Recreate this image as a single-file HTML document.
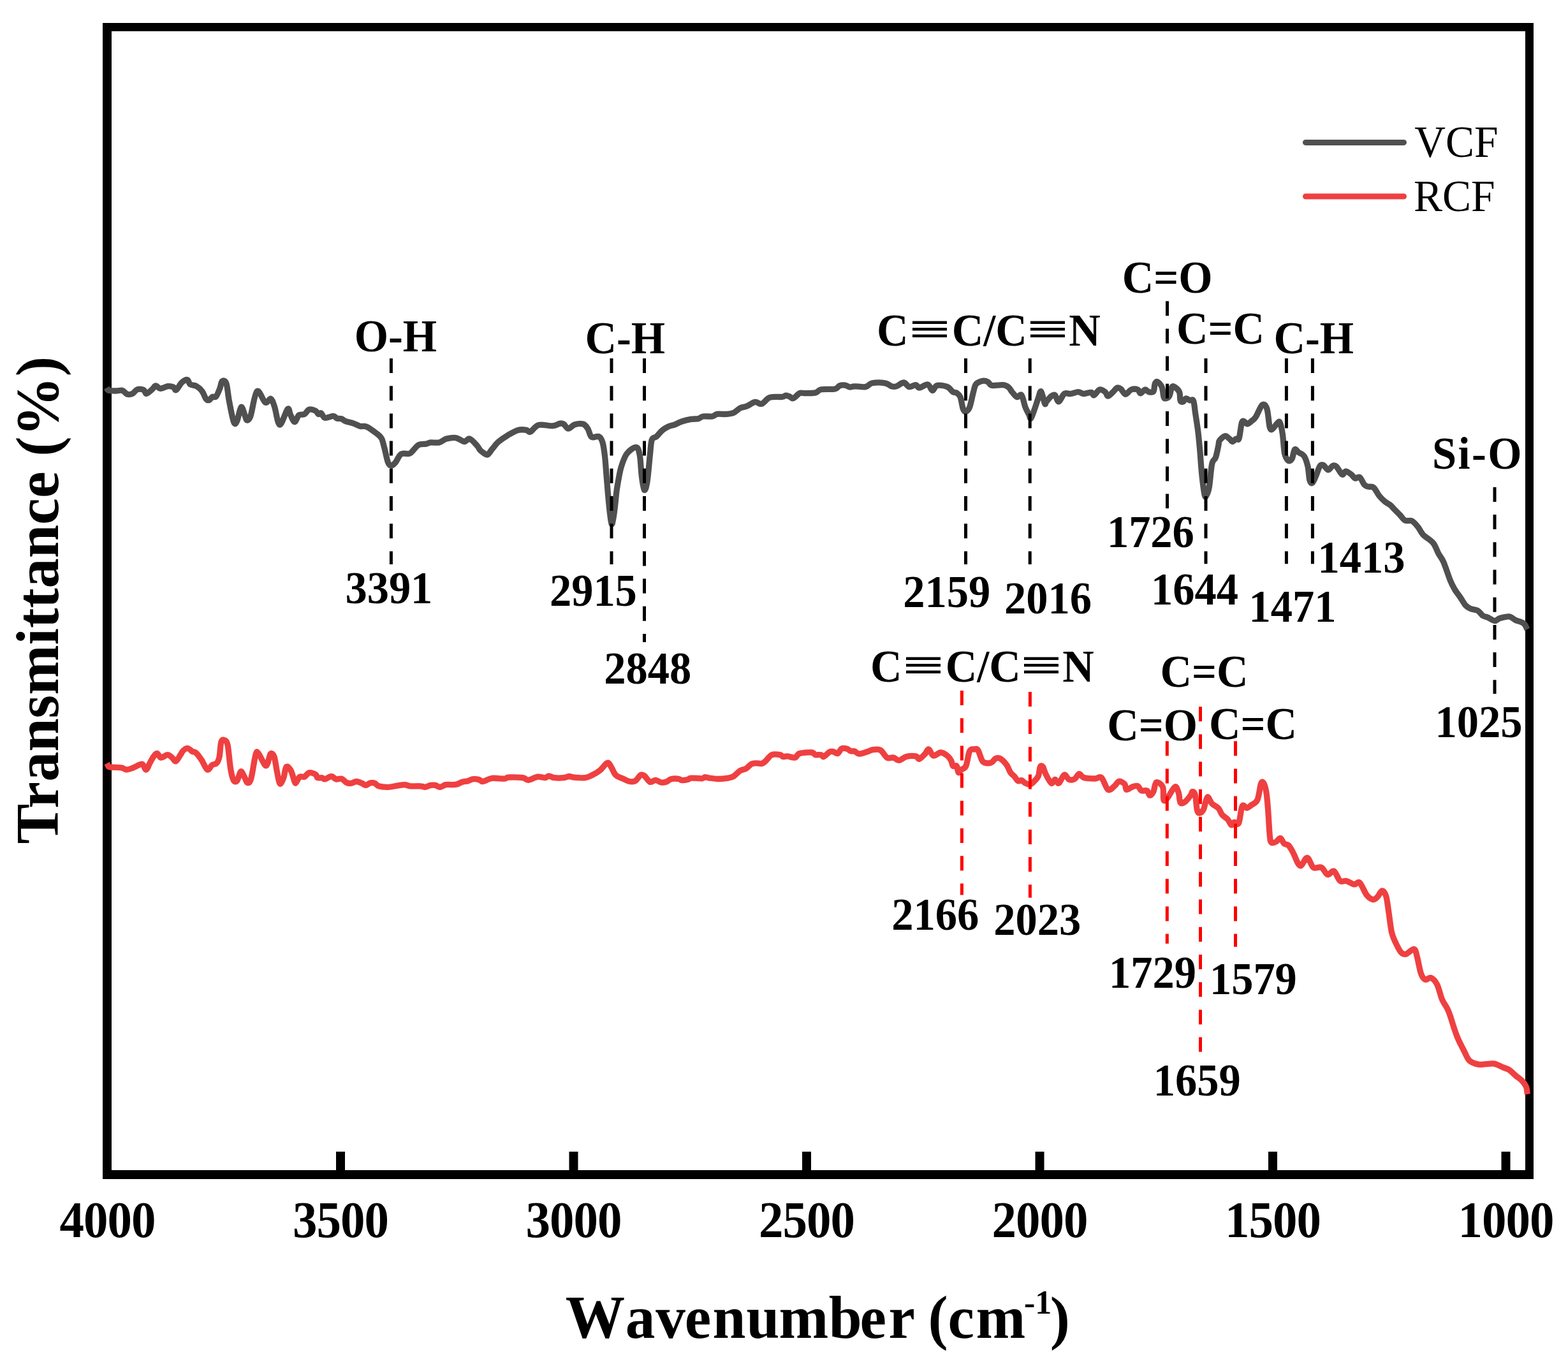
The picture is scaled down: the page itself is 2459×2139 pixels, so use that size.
<!DOCTYPE html>
<html><head><meta charset="utf-8"><title>FTIR spectra of VCF and RCF</title>
<style>html,body{margin:0;padding:0;background:#fff;overflow:hidden;}svg{display:block;}</style>
</head><body>
<svg width="2459" height="2139" viewBox="0 0 2459 2139">
<rect width="2459" height="2139" fill="#fff"/>
<g fill="#000">
<rect x="161" y="36" width="14" height="1813"/>
<rect x="2392" y="36" width="13" height="1813"/>
<rect x="161" y="36" width="2244" height="13"/>
<rect x="161" y="1835" width="2244" height="14"/>
<rect x="527.0" y="1806" width="14" height="30"/>
<rect x="892.5" y="1806" width="14" height="30"/>
<rect x="1258.0" y="1806" width="14" height="30"/>
<rect x="1623.5" y="1806" width="14" height="30"/>
<rect x="1989.0" y="1806" width="14" height="30"/>
<rect x="2354.5" y="1806" width="14" height="30"/>
</g>
<path d="M167.5,608.0 C167.9,608.7 167.7,611.4 170.0,612.2 C172.3,613.0 178.0,613.0 181.6,613.0 C185.2,613.0 188.9,611.4 191.8,612.2 C194.7,613.0 196.4,617.1 199.1,618.0 C201.8,618.9 205.2,618.5 207.9,617.3 C210.6,616.1 212.2,611.8 215.1,610.8 C218.0,609.8 222.9,610.4 225.3,611.5 C227.7,612.6 227.5,617.4 229.7,617.3 C231.9,617.2 236.0,612.8 238.4,610.8 C240.8,608.8 242.1,605.2 244.3,605.0 C246.5,604.8 248.3,609.2 251.5,609.3 C254.7,609.4 259.8,606.1 263.2,605.7 C266.6,605.3 269.7,606.1 271.9,607.1 C274.1,608.1 274.1,612.7 276.3,611.5 C278.5,610.3 282.1,602.6 285.0,599.9 C287.9,597.2 291.6,595.0 293.8,595.5 C296.0,596.0 295.8,601.1 298.2,602.8 C300.6,604.5 305.1,603.9 308.3,605.7 C311.5,607.5 314.7,610.4 317.1,613.7 C319.5,617.0 321.1,623.0 322.9,625.3 C324.7,627.6 326.3,628.0 328.0,627.5 C329.7,627.0 331.3,623.4 333.1,622.4 C334.9,621.4 337.0,623.9 338.9,621.7 C340.8,619.5 343.1,613.3 344.7,609.3 C346.3,605.3 346.7,599.0 348.4,597.7 C350.1,596.4 353.1,596.2 354.9,601.3 C356.7,606.4 357.4,618.2 359.3,628.3 C361.2,638.4 364.5,656.4 366.6,661.7 C368.7,667.0 369.8,664.2 371.7,660.3 C373.6,656.4 376.1,639.9 378.2,638.4 C380.3,636.9 382.6,648.1 384.1,651.5 C385.6,654.9 385.6,658.5 387.0,658.8 C388.4,659.0 390.1,660.5 392.8,653.0 C395.5,645.5 399.1,617.3 403.0,613.7 C406.9,610.1 412.5,629.3 416.1,631.2 C419.7,633.1 422.4,624.1 424.8,625.3 C427.2,626.5 428.4,631.6 430.7,638.4 C433.0,645.2 435.3,665.6 438.7,666.1 C442.1,666.6 448.3,644.1 451.1,641.4 C453.9,638.7 453.6,646.7 455.4,650.1 C457.2,653.5 459.8,661.6 462.0,661.7 C464.2,661.9 466.1,653.0 468.7,651.0 C471.3,649.0 474.8,651.0 477.5,649.5 C480.2,648.0 481.9,643.1 484.8,642.2 C487.7,641.4 492.6,643.2 495.0,644.4 C497.4,645.6 497.9,648.9 499.3,649.5 C500.8,650.1 502.0,647.0 503.7,648.0 C505.4,649.0 506.4,654.6 509.5,655.3 C512.6,656.0 519.5,652.3 522.6,652.4 C525.8,652.5 526.2,655.4 528.4,656.1 C530.6,656.8 533.5,656.1 535.7,656.8 C537.9,657.5 538.3,659.2 541.5,660.4 C544.7,661.6 550.8,662.8 554.7,664.1 C558.6,665.4 561.5,667.5 564.9,668.4 C568.3,669.2 570.6,667.2 575.0,669.2 C579.4,671.2 587.2,677.1 591.1,680.1 C595.0,683.1 596.4,683.8 598.3,687.4 C600.2,691.0 601.0,695.6 602.7,701.9 C604.4,708.2 606.7,720.5 608.5,725.2 C610.3,729.9 611.6,730.3 613.6,730.3 C615.6,730.3 617.7,728.2 620.2,725.2 C622.8,722.2 625.3,714.4 628.9,712.1 C632.5,709.8 638.8,712.4 642.0,711.4 C645.2,710.4 645.5,708.6 647.9,706.3 C650.3,704.0 653.2,699.3 656.6,697.6 C660.0,695.9 665.1,696.7 668.2,696.1 C671.4,695.5 672.1,694.3 675.5,693.9 C678.9,693.5 684.5,694.9 688.6,693.9 C692.7,692.9 695.9,689.3 700.3,688.1 C704.7,686.9 710.2,685.9 714.8,686.6 C719.4,687.3 724.4,692.2 728.0,692.5 C731.6,692.8 733.3,687.0 736.7,688.1 C740.1,689.2 745.6,696.0 748.3,699.0 C751.0,702.0 751.4,704.2 753.0,706.0 C754.6,707.8 756.1,708.8 758.0,710.0 C759.9,711.2 762.3,714.0 764.6,713.0 C766.9,712.0 768.9,707.7 771.8,704.3 C774.7,700.9 777.9,696.2 782.0,692.6 C786.1,689.0 791.5,685.4 796.6,682.4 C801.7,679.4 807.8,675.7 812.6,674.4 C817.5,673.1 822.6,673.9 825.7,674.4 C828.9,674.9 828.3,678.6 831.5,677.3 C834.7,676.0 838.9,668.0 844.7,666.4 C850.5,664.8 860.9,668.3 866.5,667.9 C872.1,667.5 875.2,664.7 878.1,664.2 C881.0,663.7 881.8,663.7 884.0,665.0 C886.2,666.3 888.4,672.1 891.3,672.2 C894.2,672.3 897.5,666.9 901.4,665.7 C905.3,664.5 911.2,663.9 914.6,665.0 C918.0,666.1 919.6,668.8 921.8,672.2 C924.0,675.6 924.8,683.2 927.7,685.3 C930.6,687.4 936.4,683.1 939.3,684.6 C942.2,686.1 943.6,689.0 945.1,694.1 C946.6,699.2 947.5,706.5 948.5,715.0 C949.5,723.5 950.2,735.0 951.0,745.0 C951.8,755.0 952.6,765.0 953.5,775.0 C954.4,785.0 955.5,797.2 956.5,805.0 C957.5,812.8 958.3,820.8 959.2,822.0 C960.1,823.2 961.0,817.3 962.0,812.0 C963.0,806.7 964.1,797.0 964.9,790.0 C965.7,783.0 966.2,776.1 967.0,770.0 C967.8,763.9 968.5,759.9 969.7,753.5 C970.9,747.1 972.1,738.9 974.3,731.9 C976.5,724.9 979.1,716.6 983.0,711.5 C986.9,706.4 994.2,700.9 997.6,701.4 C1001.0,701.9 1002.0,707.0 1003.4,714.5 C1004.8,722.0 1005.1,737.5 1006.3,746.5 C1007.5,755.5 1008.9,766.9 1010.4,768.4 C1011.9,769.9 1013.5,764.4 1015.0,755.2 C1016.5,746.0 1018.2,723.9 1019.4,713.0 C1020.6,702.1 1020.6,694.4 1022.3,689.7 C1024.0,685.0 1026.9,687.0 1029.6,684.6 C1032.3,682.2 1035.2,677.7 1038.3,675.1 C1041.4,672.5 1044.8,670.5 1048.0,669.0 C1051.2,667.5 1054.0,667.4 1057.5,666.1 C1061.0,664.8 1064.7,662.5 1069.1,661.0 C1073.5,659.5 1079.3,658.1 1083.7,657.4 C1088.1,656.7 1092.2,657.3 1095.3,656.6 C1098.4,655.9 1098.9,653.6 1102.6,653.0 C1106.2,652.4 1113.5,653.6 1117.2,653.0 C1120.9,652.4 1120.9,650.0 1124.5,649.4 C1128.1,648.8 1134.6,649.8 1139.0,649.4 C1143.4,649.0 1147.0,648.8 1150.7,647.2 C1154.4,645.6 1157.5,641.6 1160.9,639.9 C1164.3,638.2 1167.2,638.6 1171.1,637.0 C1175.0,635.4 1180.3,631.0 1184.2,630.4 C1188.1,629.8 1190.5,634.5 1194.4,633.3 C1198.3,632.1 1202.2,625.0 1207.5,623.2 C1212.8,621.4 1222.3,622.9 1226.4,622.4 C1230.5,621.9 1230.3,620.3 1232.2,620.2 C1234.1,620.1 1236.0,621.0 1238.0,621.7 C1240.0,622.4 1241.2,625.5 1243.9,624.6 C1246.6,623.8 1251.2,617.9 1254.1,616.6 C1257.0,615.3 1257.3,616.7 1261.4,616.6 C1265.5,616.5 1274.4,616.9 1278.8,615.9 C1283.2,614.9 1282.5,611.8 1287.6,610.8 C1292.7,609.8 1304.6,611.0 1309.4,610.0 C1314.2,609.0 1314.0,605.9 1316.7,604.9 C1319.4,603.9 1322.7,603.8 1325.4,604.2 C1328.1,604.6 1330.3,606.8 1332.7,607.1 C1335.1,607.4 1335.9,605.9 1340.0,605.8 C1344.1,605.7 1352.9,607.4 1357.5,606.6 C1362.1,605.8 1362.6,601.8 1367.7,600.8 C1372.8,599.8 1383.0,599.9 1388.1,600.8 C1393.2,601.6 1395.4,605.0 1398.3,605.9 C1401.2,606.8 1402.3,606.9 1405.5,605.9 C1408.7,604.9 1413.8,599.9 1417.2,600.0 C1420.6,600.1 1422.8,606.0 1425.9,606.6 C1429.1,607.2 1433.4,603.5 1436.1,603.7 C1438.8,604.0 1438.8,608.2 1441.9,608.1 C1445.1,608.0 1451.6,602.3 1455.0,603.0 C1458.4,603.7 1459.9,612.2 1462.3,612.4 C1464.7,612.6 1465.7,605.4 1469.6,604.4 C1473.5,603.4 1481.5,604.9 1485.6,606.6 C1489.7,608.3 1492.0,613.0 1494.4,614.6 C1496.8,616.2 1498.3,614.8 1500.2,616.1 C1502.1,617.4 1504.3,618.4 1506.0,622.6 C1507.7,626.8 1508.9,637.7 1510.4,641.5 C1511.9,645.3 1513.1,645.7 1514.8,645.2 C1516.5,644.7 1518.7,643.6 1520.6,638.6 C1522.5,633.6 1524.7,621.4 1526.4,615.3 C1528.1,609.2 1528.1,605.2 1530.8,602.2 C1533.5,599.2 1539.2,597.6 1542.4,597.1 C1545.6,596.6 1547.5,598.1 1549.7,599.3 C1551.9,600.5 1551.6,603.7 1555.5,604.4 C1559.4,605.1 1568.6,603.2 1573.0,603.7 C1577.4,604.2 1579.3,605.4 1581.7,607.3 C1584.1,609.2 1585.4,612.8 1587.6,615.3 C1589.8,617.8 1592.4,621.9 1594.8,622.6 C1597.2,623.3 1599.9,617.0 1602.1,619.7 C1604.3,622.4 1606.0,633.5 1608.0,638.6 C1610.0,643.7 1612.3,647.4 1613.8,650.3 C1615.2,653.2 1615.2,657.6 1616.7,656.1 C1618.2,654.6 1620.6,646.8 1622.5,641.5 C1624.4,636.2 1626.6,628.7 1628.3,624.1 C1630.0,619.5 1631.0,612.5 1632.7,613.9 C1634.4,615.3 1637.1,630.1 1638.5,632.8 C1639.9,635.5 1639.3,631.9 1641.0,630.0 C1642.7,628.1 1646.4,622.9 1648.7,621.2 C1651.0,619.5 1652.6,618.2 1654.6,619.7 C1656.5,621.2 1658.0,630.3 1660.4,629.9 C1662.8,629.5 1665.9,619.6 1669.1,617.5 C1672.2,615.4 1675.6,618.0 1679.3,617.5 C1683.0,617.0 1687.6,614.6 1691.0,614.6 C1694.4,614.6 1696.3,617.4 1699.7,617.5 C1703.1,617.6 1708.7,614.9 1711.4,615.3 C1714.1,615.7 1713.5,620.4 1715.7,619.7 C1717.9,619.0 1721.6,611.9 1724.5,611.0 C1727.4,610.1 1731.0,612.9 1733.2,614.6 C1735.4,616.3 1735.6,621.1 1737.6,621.2 C1739.5,621.3 1742.5,617.5 1744.9,615.3 C1747.3,613.1 1749.9,609.0 1752.1,608.1 C1754.3,607.2 1755.8,608.5 1758.0,610.2 C1760.2,611.9 1762.5,618.2 1765.2,618.3 C1767.9,618.4 1770.8,612.2 1774.0,611.0 C1777.2,609.8 1781.8,610.0 1784.2,611.0 C1786.6,612.0 1786.6,616.8 1788.5,616.8 C1790.4,616.8 1793.6,611.4 1795.8,611.0 C1798.0,610.6 1799.4,614.1 1801.6,614.6 C1803.8,615.1 1807.3,616.0 1808.9,613.9 C1810.5,611.8 1810.1,604.8 1811.1,602.2 C1812.1,599.7 1813.0,597.9 1814.8,598.6 C1816.6,599.3 1820.3,602.6 1822.0,606.6 C1823.7,610.6 1824.0,619.6 1825.0,622.6 C1826.0,625.6 1826.5,625.0 1827.9,624.8 C1829.4,624.6 1832.0,624.2 1833.7,621.2 C1835.4,618.2 1836.3,608.8 1838.0,606.6 C1839.7,604.4 1842.0,606.7 1843.9,608.1 C1845.9,609.5 1848.5,611.9 1849.7,615.3 C1850.9,618.7 1850.2,626.0 1851.2,628.4 C1852.2,630.8 1854.0,630.5 1855.5,629.9 C1857.0,629.3 1858.2,625.2 1859.9,624.8 C1861.6,624.4 1863.8,627.1 1865.7,627.7 C1867.6,628.3 1870.0,625.1 1871.5,628.4 C1873.0,631.7 1873.3,639.4 1874.5,647.4 C1875.7,655.4 1877.6,666.8 1878.8,676.5 C1880.0,686.2 1880.7,694.7 1881.7,705.6 C1882.7,716.5 1883.4,730.4 1884.6,742.0 C1885.8,753.6 1887.8,769.7 1889.0,775.5 C1890.2,781.3 1890.7,778.9 1891.9,777.0 C1893.1,775.1 1894.8,772.1 1896.3,763.9 C1897.8,755.6 1899.0,735.3 1900.7,727.5 C1902.4,719.7 1904.8,722.2 1906.5,717.3 C1908.2,712.4 1909.9,702.7 1910.9,698.3 C1911.9,693.9 1910.6,693.5 1912.3,691.1 C1914.0,688.7 1918.4,684.3 1921.1,683.8 C1923.8,683.3 1926.4,686.8 1928.3,688.2 C1930.2,689.7 1931.0,692.5 1932.7,692.5 C1934.4,692.5 1936.8,689.1 1938.5,688.2 C1940.2,687.4 1941.6,691.7 1943.1,687.4 C1944.6,683.1 1946.0,667.0 1947.5,662.6 C1949.0,658.2 1950.3,660.8 1951.8,661.2 C1953.2,661.6 1954.2,665.0 1956.2,664.8 C1958.2,664.5 1961.3,661.5 1963.5,659.7 C1965.7,657.9 1966.6,658.0 1969.3,653.9 C1972.0,649.8 1976.6,637.2 1979.5,635.0 C1982.4,632.8 1984.8,635.0 1986.8,640.8 C1988.8,646.6 1989.8,664.6 1991.2,669.9 C1992.7,675.2 1993.6,673.8 1995.5,672.8 C1997.4,671.8 2000.8,665.8 2002.8,664.1 C2004.8,662.4 2005.8,659.7 2007.2,662.6 C2008.7,665.5 2010.3,673.5 2011.5,681.5 C2012.7,689.5 2013.0,703.9 2014.5,710.7 C2016.0,717.5 2018.4,720.8 2020.3,722.3 C2022.2,723.8 2024.4,722.3 2026.1,719.4 C2027.8,716.5 2028.8,706.6 2030.5,704.9 C2032.2,703.2 2033.9,707.5 2036.3,709.2 C2038.7,710.9 2042.6,711.4 2045.0,715.0 C2047.4,718.6 2049.4,724.8 2050.9,731.1 C2052.4,737.4 2052.6,748.5 2053.8,752.9 C2055.0,757.3 2056.5,758.5 2058.2,757.3 C2059.9,756.1 2062.1,750.0 2064.0,745.6 C2065.9,741.2 2067.9,733.8 2069.8,731.1 C2071.7,728.4 2073.4,728.6 2075.6,729.6 C2077.8,730.6 2080.5,736.8 2082.9,736.9 C2085.3,737.0 2088.0,731.1 2090.2,730.3 C2092.4,729.4 2093.6,729.5 2096.0,731.8 C2098.4,734.1 2102.4,743.0 2104.8,744.2 C2107.2,745.4 2108.2,739.1 2110.6,739.1 C2113.0,739.1 2116.9,742.4 2119.3,744.2 C2121.7,746.0 2122.9,749.3 2125.1,750.0 C2127.3,750.7 2130.0,746.8 2132.4,748.5 C2134.8,750.2 2137.5,757.8 2139.7,760.2 C2141.9,762.6 2143.1,762.4 2145.5,763.1 C2147.9,763.8 2151.4,762.2 2154.3,764.6 C2157.2,767.0 2160.1,774.1 2163.0,777.7 C2165.9,781.3 2168.8,784.0 2171.7,786.4 C2174.6,788.8 2178.1,790.3 2180.5,792.2 C2182.9,794.1 2183.5,795.5 2186.0,798.0 C2188.5,800.5 2192.5,804.5 2195.4,807.5 C2198.3,810.5 2200.4,814.6 2203.5,816.2 C2206.6,817.8 2210.8,815.2 2214.2,816.9 C2217.5,818.6 2220.7,822.6 2223.6,826.2 C2226.5,829.8 2227.6,834.0 2231.6,838.3 C2235.6,842.5 2243.7,846.8 2247.7,851.7 C2251.7,856.6 2253.0,862.9 2255.7,867.8 C2258.4,872.7 2260.6,874.1 2263.7,881.2 C2266.8,888.3 2271.6,903.5 2274.5,910.6 C2277.4,917.7 2278.5,919.5 2281.2,924.0 C2283.9,928.5 2287.6,933.1 2290.5,937.4 C2293.4,941.6 2295.9,946.6 2298.6,949.5 C2301.3,952.4 2303.5,953.5 2306.6,954.8 C2309.7,956.1 2314.2,955.7 2317.3,957.5 C2320.4,959.3 2322.7,963.7 2325.4,965.5 C2328.1,967.3 2330.3,966.9 2333.4,968.2 C2336.5,969.6 2341.0,973.4 2344.1,973.6 C2347.2,973.8 2348.3,970.6 2352.1,969.5 C2355.9,968.4 2362.9,966.4 2366.9,966.9 C2370.9,967.4 2372.4,970.4 2376.2,972.2 C2380.0,974.0 2386.5,975.1 2389.6,977.6 C2392.7,980.1 2394.1,985.4 2395.0,987.0" fill="none" stroke="#505050" stroke-width="9.3" stroke-linejoin="round" stroke-linecap="butt"/>
<path d="M167.9,1196.8 C168.4,1197.8 168.9,1201.5 170.8,1202.6 C172.8,1203.7 176.2,1203.0 179.6,1203.3 C183.0,1203.5 188.0,1203.5 191.2,1204.1 C194.3,1204.7 195.6,1207.0 198.5,1207.0 C201.4,1207.0 206.0,1205.1 208.7,1204.1 C211.4,1203.1 212.1,1202.2 214.5,1201.2 C216.9,1200.2 220.8,1197.2 223.2,1198.2 C225.6,1199.2 227.1,1207.2 229.1,1207.0 C231.1,1206.8 233.0,1200.2 234.9,1196.8 C236.8,1193.4 238.8,1189.1 240.7,1186.6 C242.6,1184.0 244.6,1181.2 246.5,1181.5 C248.4,1181.8 249.7,1187.7 252.4,1188.1 C255.1,1188.5 259.7,1183.7 262.6,1183.7 C265.5,1183.7 267.7,1186.4 269.9,1188.1 C272.1,1189.8 273.5,1194.6 275.7,1193.9 C277.9,1193.2 281.1,1186.5 283.0,1183.7 C284.9,1180.9 285.4,1178.8 287.3,1177.1 C289.2,1175.4 292.2,1173.2 294.6,1173.5 C297.0,1173.8 299.7,1177.4 301.9,1178.6 C304.1,1179.8 305.3,1178.5 307.7,1180.8 C310.1,1183.1 313.6,1188.0 316.5,1192.4 C319.4,1196.8 322.5,1205.8 325.2,1207.0 C327.9,1208.2 330.1,1201.4 332.5,1199.7 C334.9,1198.0 337.9,1199.0 339.8,1196.8 C341.7,1194.6 342.9,1192.2 344.1,1186.6 C345.3,1181.0 345.5,1167.5 347.0,1163.3 C348.5,1159.0 351.2,1160.1 352.9,1161.1 C354.6,1162.1 355.8,1161.7 357.2,1169.1 C358.6,1176.5 360.1,1196.5 361.6,1205.5 C363.1,1214.5 364.3,1219.8 366.0,1223.0 C367.7,1226.2 369.9,1226.7 371.8,1224.5 C373.7,1222.3 375.7,1210.9 377.6,1209.9 C379.5,1208.9 381.7,1215.7 383.4,1218.6 C385.1,1221.5 386.1,1226.9 387.8,1227.4 C389.5,1227.9 391.4,1228.8 393.6,1221.5 C395.8,1214.2 398.9,1190.4 400.9,1183.7 C402.8,1177.0 402.9,1178.8 405.3,1181.5 C407.7,1184.2 413.1,1197.2 415.5,1199.7 C417.9,1202.2 418.4,1199.7 419.8,1196.8 C421.2,1193.9 422.5,1183.9 424.2,1182.2 C425.9,1180.5 428.3,1182.0 430.0,1186.6 C431.7,1191.2 432.9,1202.9 434.4,1209.9 C435.9,1216.9 437.1,1227.1 438.8,1228.8 C440.5,1230.5 442.9,1224.5 444.6,1220.1 C446.3,1215.7 447.1,1204.5 449.0,1202.6 C450.9,1200.6 454.0,1204.5 456.2,1208.4 C458.4,1212.3 460.7,1222.8 462.1,1225.9 C463.5,1229.0 463.0,1228.3 464.4,1227.0 C465.8,1225.7 468.0,1219.7 470.2,1218.2 C472.4,1216.7 475.1,1219.3 477.5,1218.2 C479.9,1217.1 481.9,1212.3 484.8,1211.7 C487.7,1211.1 492.8,1213.3 495.0,1214.6 C497.2,1215.9 496.2,1218.8 497.9,1219.7 C499.6,1220.6 503.2,1219.3 505.1,1219.7 C507.0,1220.1 507.1,1222.3 509.5,1221.9 C511.9,1221.5 516.8,1217.5 519.7,1217.5 C522.6,1217.5 524.3,1221.3 527.0,1221.9 C529.7,1222.5 533.0,1220.4 535.7,1221.2 C538.4,1222.0 540.6,1225.8 543.0,1227.0 C545.4,1228.2 547.6,1228.7 550.3,1228.4 C553.0,1228.2 556.1,1225.5 559.0,1225.5 C561.9,1225.5 565.4,1227.4 567.8,1228.4 C570.2,1229.4 571.4,1231.5 573.6,1231.4 C575.8,1231.3 578.5,1228.2 580.9,1227.7 C583.3,1227.2 585.9,1227.6 588.1,1228.4 C590.3,1229.2 590.6,1231.8 594.0,1232.8 C597.4,1233.8 603.6,1234.4 608.5,1234.3 C613.4,1234.2 618.7,1232.7 623.1,1232.1 C627.5,1231.5 631.4,1230.5 634.8,1230.6 C638.2,1230.7 639.4,1232.4 643.5,1232.8 C647.6,1233.2 655.6,1232.5 659.5,1232.8 C663.4,1233.0 664.1,1234.5 666.8,1234.3 C669.5,1234.1 672.8,1231.9 675.5,1231.4 C678.2,1230.9 680.4,1230.9 682.8,1231.4 C685.2,1231.9 687.4,1234.4 690.1,1234.3 C692.8,1234.2 695.9,1231.2 698.8,1230.6 C701.7,1230.0 704.7,1230.7 707.6,1230.6 C710.5,1230.5 713.4,1230.6 716.3,1229.9 C719.2,1229.2 722.1,1227.2 725.0,1226.3 C727.9,1225.4 731.1,1225.5 733.8,1224.8 C736.5,1224.1 738.2,1222.3 741.1,1221.9 C744.0,1221.5 748.5,1222.0 751.2,1222.6 C753.9,1223.2 753.9,1225.9 757.3,1225.5 C760.7,1225.1 766.2,1221.1 771.8,1220.4 C777.4,1219.7 786.4,1221.4 790.8,1221.2 C795.2,1221.0 793.2,1219.2 798.1,1219.0 C803.0,1218.8 814.8,1219.0 819.9,1219.7 C825.0,1220.4 824.7,1223.5 828.6,1223.3 C832.5,1223.0 838.8,1218.8 843.2,1218.2 C847.6,1217.6 852.0,1219.9 854.9,1219.7 C857.8,1219.5 858.3,1216.8 860.7,1216.8 C863.1,1216.8 865.5,1219.2 869.4,1219.7 C873.3,1220.2 880.1,1220.1 884.0,1219.7 C887.9,1219.3 890.0,1217.6 892.7,1217.5 C895.4,1217.4 895.9,1218.6 900.0,1219.0 C904.1,1219.4 912.6,1220.3 917.5,1219.7 C922.4,1219.1 925.2,1217.2 929.1,1215.3 C933.0,1213.4 936.9,1211.2 940.8,1208.1 C944.7,1204.9 949.5,1197.4 952.4,1196.4 C955.3,1195.4 956.0,1199.1 958.2,1202.2 C960.4,1205.3 962.3,1212.1 965.5,1215.3 C968.7,1218.5 973.6,1219.5 977.2,1221.2 C980.9,1222.9 984.2,1224.9 987.4,1225.5 C990.5,1226.1 993.2,1226.5 996.1,1224.8 C999.0,1223.1 1002.4,1216.6 1004.8,1215.3 C1007.2,1214.0 1008.3,1215.0 1010.7,1216.8 C1013.1,1218.6 1016.5,1225.2 1019.4,1226.3 C1022.3,1227.4 1025.2,1223.2 1028.1,1223.3 C1031.0,1223.4 1034.1,1226.5 1036.9,1227.0 C1039.7,1227.5 1042.3,1226.9 1045.0,1226.0 C1047.7,1225.1 1049.8,1222.2 1053.1,1221.5 C1056.4,1220.8 1062.1,1221.1 1064.8,1221.5 C1067.5,1221.9 1066.7,1223.6 1069.1,1223.7 C1071.5,1223.8 1076.9,1222.9 1079.3,1222.3 C1081.7,1221.7 1080.0,1220.3 1083.7,1220.1 C1087.4,1219.8 1097.6,1221.0 1101.2,1220.8 C1104.8,1220.5 1103.6,1218.7 1105.5,1218.6 C1107.4,1218.5 1109.1,1219.6 1112.8,1220.1 C1116.5,1220.6 1122.6,1221.5 1127.4,1221.5 C1132.2,1221.5 1138.0,1220.8 1141.9,1220.1 C1145.8,1219.4 1147.5,1219.2 1150.7,1217.2 C1153.9,1215.2 1157.8,1210.4 1160.9,1208.4 C1164.1,1206.5 1166.7,1207.2 1169.6,1205.5 C1172.5,1203.8 1175.6,1199.7 1178.3,1198.2 C1181.0,1196.8 1182.9,1196.9 1185.6,1196.8 C1188.3,1196.7 1192.0,1198.0 1194.4,1197.5 C1196.8,1197.0 1197.5,1196.2 1200.2,1193.9 C1202.9,1191.6 1206.5,1185.4 1210.4,1183.7 C1214.3,1182.0 1220.6,1183.2 1223.5,1183.7 C1226.4,1184.2 1226.0,1186.2 1227.9,1186.6 C1229.8,1187.0 1231.9,1185.7 1235.1,1185.9 C1238.2,1186.2 1243.6,1188.8 1246.8,1188.1 C1250.0,1187.4 1249.7,1182.8 1254.1,1181.5 C1258.5,1180.2 1268.9,1179.6 1273.0,1180.0 C1277.1,1180.4 1276.4,1183.1 1278.8,1183.7 C1281.2,1184.3 1285.4,1183.2 1287.6,1183.7 C1289.8,1184.2 1289.7,1187.3 1291.9,1186.6 C1294.1,1185.9 1298.3,1180.6 1300.7,1179.3 C1303.1,1178.0 1304.3,1178.2 1306.5,1178.6 C1308.7,1179.0 1311.6,1182.2 1313.8,1181.5 C1316.0,1180.8 1317.2,1175.4 1319.6,1174.2 C1322.0,1173.0 1325.9,1173.6 1328.3,1174.2 C1330.7,1174.8 1332.2,1177.3 1334.2,1177.9 C1336.2,1178.5 1337.8,1177.3 1340.0,1178.0 C1342.2,1178.7 1344.1,1182.0 1347.3,1182.2 C1350.5,1182.4 1355.3,1180.4 1358.9,1179.3 C1362.5,1178.2 1365.4,1176.2 1369.1,1175.7 C1372.8,1175.2 1377.1,1174.3 1380.8,1176.4 C1384.5,1178.5 1387.6,1186.1 1391.0,1188.1 C1394.4,1190.0 1398.0,1187.4 1401.2,1188.1 C1404.4,1188.8 1406.5,1192.7 1409.9,1192.4 C1413.3,1192.2 1417.1,1187.7 1421.5,1186.6 C1425.9,1185.5 1432.7,1185.3 1436.1,1185.9 C1439.5,1186.5 1439.5,1190.8 1441.9,1190.2 C1444.3,1189.6 1448.3,1184.7 1450.7,1182.2 C1453.1,1179.7 1454.3,1174.5 1456.5,1175.0 C1458.7,1175.5 1460.6,1184.3 1463.8,1185.1 C1467.0,1185.9 1471.8,1180.0 1475.4,1180.0 C1479.0,1180.0 1482.9,1183.0 1485.6,1185.1 C1488.3,1187.2 1490.0,1189.7 1491.5,1192.4 C1493.0,1195.1 1493.0,1199.7 1494.4,1201.2 C1495.9,1202.7 1498.8,1199.5 1500.2,1201.2 C1501.7,1202.9 1501.9,1210.4 1503.1,1211.4 C1504.3,1212.4 1505.5,1208.7 1507.5,1207.0 C1509.5,1205.3 1512.6,1206.0 1514.8,1201.2 C1517.0,1196.4 1518.4,1182.3 1520.6,1177.9 C1522.8,1173.5 1525.7,1175.2 1527.9,1175.0 C1530.1,1174.8 1531.5,1173.2 1533.7,1176.4 C1535.9,1179.6 1538.3,1190.5 1541.0,1193.9 C1543.7,1197.3 1547.3,1196.6 1549.7,1196.8 C1552.1,1197.0 1553.5,1196.5 1555.5,1195.3 C1557.5,1194.1 1559.2,1190.5 1561.4,1189.5 C1563.6,1188.5 1565.7,1187.8 1568.6,1189.5 C1571.5,1191.2 1576.1,1196.0 1578.8,1199.7 C1581.5,1203.4 1582.6,1208.5 1584.6,1211.4 C1586.5,1214.3 1588.5,1215.0 1590.5,1217.2 C1592.5,1219.4 1594.4,1223.4 1596.3,1224.5 C1598.2,1225.6 1600.2,1223.1 1602.1,1223.7 C1604.0,1224.3 1605.7,1227.0 1607.9,1228.1 C1610.1,1229.2 1613.0,1230.7 1615.2,1230.3 C1617.4,1229.9 1618.9,1228.1 1621.1,1225.9 C1623.3,1223.7 1626.6,1221.1 1628.3,1217.2 C1630.0,1213.3 1630.1,1205.0 1631.3,1202.6 C1632.5,1200.2 1634.1,1200.7 1635.6,1202.6 C1637.0,1204.5 1637.8,1209.7 1640.0,1214.0 C1642.2,1218.3 1646.3,1226.8 1648.7,1228.2 C1651.1,1229.6 1652.6,1222.4 1654.6,1222.4 C1656.5,1222.4 1658.0,1229.4 1660.4,1228.2 C1662.8,1227.0 1666.4,1216.1 1669.1,1215.1 C1671.8,1214.1 1673.7,1221.3 1676.4,1222.4 C1679.1,1223.5 1682.4,1223.2 1685.1,1221.7 C1687.8,1220.2 1690.0,1214.1 1692.4,1213.7 C1694.8,1213.3 1695.6,1218.3 1699.7,1219.5 C1703.8,1220.7 1712.6,1221.0 1717.2,1221.0 C1721.8,1221.0 1724.0,1216.6 1727.4,1219.5 C1730.8,1222.4 1734.2,1236.2 1737.6,1238.4 C1741.0,1240.6 1744.9,1234.8 1747.8,1232.6 C1750.7,1230.4 1752.3,1225.8 1755.0,1225.3 C1757.7,1224.8 1761.8,1227.5 1763.8,1229.7 C1765.8,1231.9 1764.8,1237.7 1766.7,1238.4 C1768.6,1239.1 1772.5,1235.1 1775.4,1234.1 C1778.3,1233.1 1781.8,1231.6 1784.2,1232.6 C1786.6,1233.6 1787.6,1238.7 1790.0,1239.9 C1792.4,1241.1 1796.5,1238.7 1798.7,1239.9 C1800.9,1241.1 1801.4,1247.0 1803.1,1247.2 C1804.8,1247.5 1807.2,1244.8 1808.9,1241.4 C1810.6,1238.0 1810.9,1228.0 1813.3,1226.8 C1815.7,1225.6 1821.6,1229.5 1823.5,1234.1 C1825.4,1238.7 1823.7,1251.6 1824.9,1254.5 C1826.1,1257.4 1827.9,1254.9 1830.8,1251.5 C1833.7,1248.1 1839.5,1235.5 1842.4,1234.1 C1845.3,1232.6 1846.7,1238.7 1848.2,1242.8 C1849.7,1246.9 1849.5,1256.4 1851.2,1258.8 C1852.9,1261.2 1855.7,1259.3 1858.4,1257.4 C1861.1,1255.5 1865.2,1249.9 1867.2,1247.2 C1869.2,1244.5 1868.9,1241.4 1870.1,1241.4 C1871.3,1241.4 1873.3,1242.4 1874.5,1247.2 C1875.7,1252.0 1876.2,1265.9 1877.4,1270.5 C1878.6,1275.1 1880.0,1275.2 1881.7,1274.9 C1883.4,1274.7 1885.6,1273.1 1887.6,1269.0 C1889.5,1264.9 1891.2,1251.5 1893.4,1250.1 C1895.6,1248.6 1897.8,1257.4 1900.7,1260.3 C1903.6,1263.2 1908.2,1264.7 1910.9,1267.6 C1913.6,1270.5 1914.3,1274.9 1916.7,1277.8 C1919.1,1280.7 1923.0,1282.3 1925.4,1285.0 C1927.8,1287.7 1929.5,1293.1 1931.2,1293.8 C1932.9,1294.5 1933.7,1289.8 1935.6,1289.3 C1937.5,1288.8 1940.5,1294.9 1942.6,1290.7 C1944.7,1286.5 1946.0,1268.2 1948.1,1264.2 C1950.2,1260.2 1952.8,1267.2 1955.1,1267.0 C1957.4,1266.8 1959.3,1264.9 1962.1,1262.8 C1964.9,1260.7 1969.4,1260.0 1971.9,1254.4 C1974.5,1248.8 1975.8,1233.7 1977.4,1229.3 C1979.0,1224.9 1980.2,1225.8 1981.6,1227.9 C1983.0,1230.0 1984.6,1234.9 1985.8,1241.9 C1987.0,1248.9 1987.7,1258.2 1988.6,1269.8 C1989.5,1281.4 1990.5,1303.0 1991.4,1311.6 C1992.3,1320.2 1992.6,1320.0 1994.2,1321.4 C1995.8,1322.8 1998.9,1321.2 2001.2,1320.0 C2003.5,1318.8 2006.0,1313.9 2008.1,1314.4 C2010.2,1314.9 2011.6,1320.9 2013.7,1322.8 C2015.8,1324.7 2018.4,1323.3 2020.7,1325.6 C2023.0,1327.9 2024.7,1331.4 2027.7,1336.7 C2030.7,1342.0 2035.1,1356.2 2038.8,1357.6 C2042.5,1359.0 2046.5,1344.6 2050.0,1345.1 C2053.5,1345.6 2056.0,1357.9 2059.7,1360.4 C2063.4,1363.0 2068.6,1358.5 2072.3,1360.4 C2076.0,1362.3 2078.8,1370.7 2082.1,1371.6 C2085.3,1372.5 2088.6,1364.4 2091.8,1366.0 C2095.1,1367.6 2098.3,1378.8 2101.6,1381.4 C2104.9,1384.0 2107.7,1380.5 2111.4,1381.4 C2115.1,1382.3 2120.4,1386.4 2123.9,1386.9 C2127.4,1387.4 2129.1,1381.4 2132.3,1384.2 C2135.6,1387.0 2139.9,1399.3 2143.4,1403.7 C2146.9,1408.1 2150.4,1410.2 2153.2,1410.7 C2156.0,1411.2 2157.8,1408.8 2160.2,1406.5 C2162.6,1404.2 2165.2,1397.2 2167.5,1397.0 C2169.8,1396.8 2172.0,1400.1 2173.7,1405.4 C2175.4,1410.7 2176.1,1419.4 2177.6,1428.8 C2179.1,1438.2 2180.6,1453.5 2182.5,1462.0 C2184.4,1470.5 2186.9,1474.4 2189.3,1479.6 C2191.7,1484.8 2194.5,1490.5 2197.1,1493.3 C2199.7,1496.1 2201.5,1497.0 2204.9,1496.2 C2208.3,1495.4 2214.7,1487.6 2217.6,1488.4 C2220.5,1489.2 2220.7,1494.8 2222.5,1501.1 C2224.3,1507.4 2226.3,1520.6 2228.4,1526.5 C2230.5,1532.4 2232.6,1535.2 2235.2,1536.3 C2237.8,1537.4 2240.9,1532.0 2244.0,1533.3 C2247.1,1534.6 2250.9,1538.4 2253.8,1544.1 C2256.7,1549.8 2258.7,1560.7 2261.6,1567.5 C2264.5,1574.3 2268.1,1577.3 2271.3,1585.1 C2274.6,1592.9 2278.5,1606.9 2281.1,1614.4 C2283.7,1621.9 2284.4,1624.2 2287.0,1630.0 C2289.6,1635.8 2293.8,1644.0 2296.7,1649.5 C2299.6,1655.0 2300.9,1659.9 2304.5,1663.2 C2308.1,1666.5 2314.0,1668.2 2318.2,1669.1 C2322.4,1670.0 2325.7,1668.9 2329.9,1668.7 C2334.1,1668.5 2339.0,1667.2 2343.6,1668.1 C2348.2,1669.0 2353.4,1672.3 2357.3,1673.9 C2361.2,1675.5 2363.8,1675.8 2367.0,1677.9 C2370.2,1680.0 2373.5,1683.8 2376.8,1686.6 C2380.1,1689.4 2383.8,1691.6 2386.6,1694.5 C2389.4,1697.4 2391.9,1700.6 2393.4,1704.2 C2394.9,1707.8 2395.0,1714.0 2395.3,1715.9" fill="none" stroke="#ef4041" stroke-width="9.3" stroke-linejoin="round" stroke-linecap="butt"/>
<line x1="613.4" y1="562" x2="613.4" y2="885" stroke="#000" stroke-width="5" stroke-dasharray="23 20.2"/>
<line x1="959" y1="562" x2="959" y2="885" stroke="#000" stroke-width="5" stroke-dasharray="23 20.2"/>
<line x1="1010.5" y1="562" x2="1010.5" y2="1007" stroke="#000" stroke-width="5" stroke-dasharray="23 20.2"/>
<line x1="1514.5" y1="562" x2="1514.5" y2="885" stroke="#000" stroke-width="5" stroke-dasharray="23 20.2"/>
<line x1="1615.2" y1="562" x2="1615.2" y2="885" stroke="#000" stroke-width="5" stroke-dasharray="23 20.2"/>
<line x1="1830.5" y1="472.2" x2="1830.5" y2="797.3" stroke="#000" stroke-width="5" stroke-dasharray="23 20.2"/>
<line x1="1891" y1="562" x2="1891" y2="884.2" stroke="#000" stroke-width="5" stroke-dasharray="23 20.2"/>
<line x1="2017.4" y1="562" x2="2017.4" y2="884.2" stroke="#000" stroke-width="5" stroke-dasharray="23 20.2"/>
<line x1="2058.4" y1="562" x2="2058.4" y2="884.2" stroke="#000" stroke-width="5" stroke-dasharray="23 20.2"/>
<line x1="2344" y1="763.9" x2="2344" y2="1088" stroke="#000" stroke-width="5" stroke-dasharray="23 20.2"/>
<line x1="1508.4" y1="1083" x2="1508.4" y2="1403.5" stroke="#ff0000" stroke-width="5" stroke-dasharray="23 20.2"/>
<line x1="1615.4" y1="1084.9" x2="1615.4" y2="1407.7" stroke="#ff0000" stroke-width="5" stroke-dasharray="23 20.2"/>
<line x1="1830.3" y1="1162.2" x2="1830.3" y2="1479.8" stroke="#ff0000" stroke-width="5" stroke-dasharray="23 20.2"/>
<line x1="1882.5" y1="1108.2" x2="1882.5" y2="1649.7" stroke="#ff0000" stroke-width="5" stroke-dasharray="23 20.2"/>
<line x1="1937.5" y1="1162.2" x2="1937.5" y2="1484.8" stroke="#ff0000" stroke-width="5" stroke-dasharray="23 20.2"/>
<g font-family="'Liberation Serif', serif" font-weight="bold" fill="#000">
<text x="555.7" y="551.1" font-size="68.5" transform="matrix(1,0,0,1.05,0,-27.56)">O-H</text>
<text x="917.6" y="553.8" font-size="68.5" transform="matrix(1,0,0,1.05,0,-27.69)">C-H</text>
<text x="541.4" y="946.0" font-size="68.5" transform="matrix(1,0,0,1.05,0,-47.30)">3391</text>
<text x="861.9" y="949.8" font-size="68.5" transform="matrix(1,0,0,1.05,0,-47.49)">2915</text>
<text x="947.2" y="1071.7" font-size="68.5" transform="matrix(1,0,0,1.05,0,-53.59)">2848</text>
<text x="1375.06" y="541.60" font-size="68.5" transform="matrix(1,0,0,1.05,0,-27.08)">C</text><text transform="translate(1425.19,536.70) scale(1.6953,0.913)" font-size="68.5">≡</text><text x="1492.76" y="541.60" font-size="68.5" transform="matrix(1,0,0,1.05,0,-27.08)">C/C</text><text transform="translate(1610.19,536.70) scale(1.6953,0.913)" font-size="68.5">≡</text><text x="1676.33" y="541.60" font-size="68.5" transform="matrix(1,0,0,1.05,0,-27.08)">N</text>
<text x="1416.3" y="951.8" font-size="68.5" transform="matrix(1,0,0,1.05,0,-47.59)">2159</text>
<text x="1575.0" y="962.0" font-size="68.5" transform="matrix(1,0,0,1.05,0,-48.10)">2016</text>
<text x="1759.8" y="459.2" font-size="68.5" transform="matrix(1,0,0,1.05,0,-22.96)">C=O</text>
<text x="1845.1" y="538.8" font-size="68.5" transform="matrix(1,0,0,1.05,0,-26.94)">C=C</text>
<text x="1997.5" y="554.4" font-size="68.5" transform="matrix(1,0,0,1.05,0,-27.72)">C-H</text>
<text x="1735.9" y="858.0" font-size="68.5" transform="matrix(1,0,0,1.05,0,-42.90)">1726</text>
<text x="1805.1" y="948.3" font-size="68.5" transform="matrix(1,0,0,1.05,0,-47.42)">1644</text>
<text x="1958.6" y="975.0" font-size="68.5" transform="matrix(1,0,0,1.05,0,-48.75)">1471</text>
<text x="2066.4" y="898.0" font-size="68.5" transform="matrix(1,0,0,1.05,0,-44.90)">1413</text>
<text x="2246.1" y="734.7" font-size="68.5" letter-spacing="2.4" transform="matrix(1,0,0,1.05,0,-36.74)">Si-O</text>
<text x="2250.4" y="1155.9" font-size="68.5" transform="matrix(1,0,0,1.05,0,-57.80)">1025</text>
<text x="1365.06" y="1068.60" font-size="68.5" transform="matrix(1,0,0,1.05,0,-53.43)">C</text><text transform="translate(1415.19,1063.70) scale(1.6953,0.913)" font-size="68.5">≡</text><text x="1482.76" y="1068.60" font-size="68.5" transform="matrix(1,0,0,1.05,0,-53.43)">C/C</text><text transform="translate(1600.19,1063.70) scale(1.6953,0.913)" font-size="68.5">≡</text><text x="1666.33" y="1068.60" font-size="68.5" transform="matrix(1,0,0,1.05,0,-53.43)">N</text>
<text x="1398.2" y="1458.5" font-size="68.5" transform="matrix(1,0,0,1.05,0,-72.93)">2166</text>
<text x="1558.3" y="1465.8" font-size="68.5" transform="matrix(1,0,0,1.05,0,-73.29)">2023</text>
<text x="1819.5" y="1077.3" font-size="68.5" transform="matrix(1,0,0,1.05,0,-53.87)">C=C</text>
<text x="1736.2" y="1161.0" font-size="68.5" transform="matrix(1,0,0,1.05,0,-58.05)">C=O</text>
<text x="1896.0" y="1159.4" font-size="68.5" transform="matrix(1,0,0,1.05,0,-57.97)">C=C</text>
<text x="1739.0" y="1548.7" font-size="68.5" transform="matrix(1,0,0,1.05,0,-77.44)">1729</text>
<text x="1896.9" y="1559.0" font-size="68.5" transform="matrix(1,0,0,1.05,0,-77.95)">1579</text>
<text x="1808.8" y="1717.6" font-size="68.5" transform="matrix(1,0,0,1.05,0,-85.88)">1659</text>
<text x="168.5" y="1940" text-anchor="middle" font-size="77" letter-spacing="-1" transform="matrix(1,0,0,1.035,0,-67.90)">4000</text>
<text x="534.0" y="1940" text-anchor="middle" font-size="77" letter-spacing="-1" transform="matrix(1,0,0,1.035,0,-67.90)">3500</text>
<text x="899.5" y="1940" text-anchor="middle" font-size="77" letter-spacing="-1" transform="matrix(1,0,0,1.035,0,-67.90)">3000</text>
<text x="1265.0" y="1940" text-anchor="middle" font-size="77" letter-spacing="-1" transform="matrix(1,0,0,1.035,0,-67.90)">2500</text>
<text x="1630.5" y="1940" text-anchor="middle" font-size="77" letter-spacing="-1" transform="matrix(1,0,0,1.035,0,-67.90)">2000</text>
<text x="1996.0" y="1940" text-anchor="middle" font-size="77" letter-spacing="-1" transform="matrix(1,0,0,1.035,0,-67.90)">1500</text>
<text x="2361.5" y="1940" text-anchor="middle" font-size="77" letter-spacing="-1" transform="matrix(1,0,0,1.035,0,-67.90)">1000</text>
<text x="886.7 980.7 1028.2 1073.7 1117.4 1170.5 1221.5 1299.8 1348.6 1393.5 1423.5 1455.6 1486.6 1530.5" y="2098" font-size="93.3" transform="matrix(1,0,0,1.03,0,-62.94)">Wavenumber (cm</text>
<text x="1606.0" y="2060" font-size="52">-1</text>
<text x="1646.8" y="2098" font-size="93.3">)</text>
<text transform="translate(91.1,1322) rotate(-90)" x="-1.5" y="0" font-size="94.2">Transmittance (%)</text>
</g>
<line x1="2047.5" y1="223.4" x2="2201.5" y2="223.4" stroke="#505050" stroke-width="9" stroke-linecap="round"/>
<line x1="2047.5" y1="308" x2="2201.5" y2="308" stroke="#ef4041" stroke-width="9" stroke-linecap="round"/>
<g font-family="'Liberation Serif', serif" fill="#000" font-size="67.5">
<text x="2218.2" y="246" transform="matrix(1,0,0,1.03,0,-7.38)">VCF</text>
<text x="2217.1" y="331" transform="matrix(1,0,0,1.03,0,-9.93)">RCF</text>
</g>
</svg>
</body></html>
